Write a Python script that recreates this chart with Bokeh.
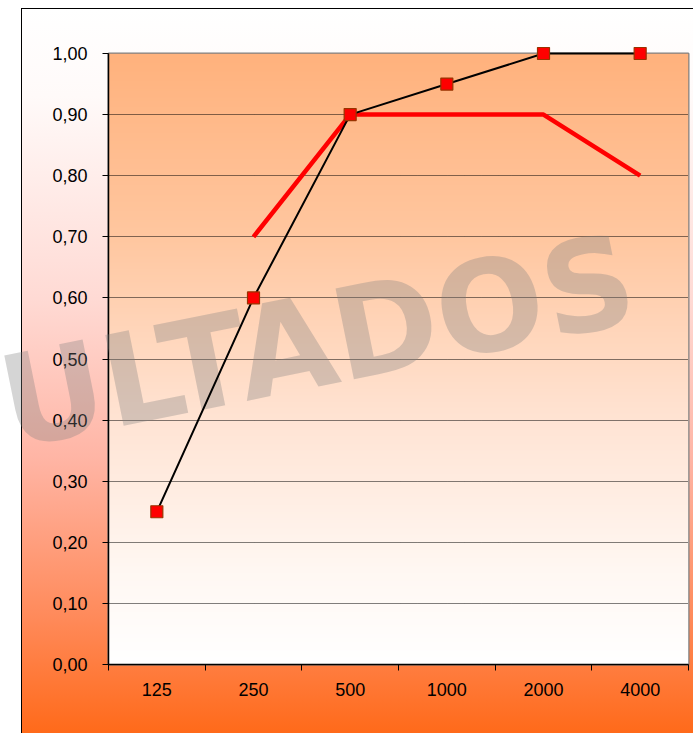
import numpy as np
from bokeh.plotting import figure
from bokeh.models import Range1d, FixedTicker, CustomJSTickFormatter
from bokeh.core.properties import value
from bokeh.embed import file_html
from bokeh.resources import INLINE

# ---- data ----
freqs = ["125", "250", "500", "1000", "2000", "4000"]
serie_negra = [0.25, 0.60, 0.90, 0.95, 1.00, 1.00]
serie_roja = [float("nan"), 0.70, 0.90, 0.90, 0.90, 0.80]
y_ticks = [0.0, 0.1, 0.2, 0.3, 0.4, 0.5, 0.6, 0.7, 0.8, 0.9, 1.0]
watermark = "ULTADOS"

xpos = list(range(len(freqs)))
edges = [i - 0.5 for i in range(len(freqs) + 1)]

outer_bg = ("linear-gradient(#000,#000) 21px 8px / 1px 100% no-repeat, "
            "linear-gradient(#000,#000) 21px 8px / 100% 1px no-repeat, "
            "linear-gradient(to bottom, #ffffff 0%, #fffaf9 12%, #ffdad4 40%, "
            "#ffb5a5 62%, #ff8a5a 84%, #ff6a1a 100%) 22px 9px / calc(100% - 22px) calc(100% - 9px) no-repeat")

p = figure(width=693, height=733, output_backend="svg", toolbar_location=None,
           min_border_left=108, min_border_right=5, min_border_top=53, min_border_bottom=69,
           x_range=Range1d(-0.5, len(freqs) - 0.5), y_range=Range1d(0, 1))
p.border_fill_color = None
p.background_fill_color = None
p.styles = {"background": outer_bg}
p.outline_line_color = "#808080"
p.outline_line_width = 2

# inner gradient of the plot area
stops_f = [0.0, 0.3, 0.6, 0.85, 1.0]
stops_c = np.array([[255, 178, 125], [255, 199, 160], [255, 228, 212], [255, 248, 243], [255, 255, 255]], float)
n = 400
fr = np.linspace(1.0, 0.0, n)
cols = np.stack([np.interp(fr, stops_f, stops_c[:, k]) for k in range(3)], axis=1).astype(np.uint8)
img = np.empty((n, 2), dtype=np.uint32)
view = img.view(dtype=np.uint8).reshape((n, 2, 4))
for j in range(2):
    view[:, j, 0] = cols[:, 0]
    view[:, j, 1] = cols[:, 1]
    view[:, j, 2] = cols[:, 2]
    view[:, j, 3] = 255
p.image_rgba(image=[img], x=-0.5, y=0, dw=len(freqs), dh=1, level="image")

# watermark (not clipped to the plot frame)
p.text(x=[-1.597], y=[0.424], text=[watermark], angle=0.2,
       text_font=value("DejaVu Sans"), text_font_style="bold", text_font_size=value("127px"),
       text_color="#7f7f7f", text_alpha=0.33, text_baseline="alphabetic", text_align="left",
       level="annotation")

# axes
p.xaxis.ticker = FixedTicker(ticks=xpos, minor_ticks=edges)
p.xaxis.formatter = CustomJSTickFormatter(args=dict(labels=freqs),
                                          code="return labels[Math.round(tick)];")
p.xaxis.major_tick_out = 0
p.xaxis.major_tick_in = 0
p.xaxis.minor_tick_out = 6
p.xaxis.minor_tick_in = 0
p.xaxis.minor_tick_line_color = "black"
p.xaxis.major_label_standoff = 12

p.yaxis.ticker = FixedTicker(ticks=y_ticks)
p.yaxis.formatter = CustomJSTickFormatter(code="return tick.toFixed(2).replace('.', ',');")
p.yaxis.major_tick_out = 6
p.yaxis.major_tick_in = 0
p.yaxis.minor_tick_line_color = None
p.yaxis.major_label_standoff = 15

for ax in (p.xaxis, p.yaxis):
    ax.axis_line_color = "black"
    ax.axis_line_width = 1.5
    ax.major_tick_line_color = "black"
    ax.major_label_text_font = "Liberation Sans"
    ax.major_label_text_font_size = "18px"
    ax.major_label_text_color = "black"

p.xgrid.visible = False
p.ygrid.ticker = FixedTicker(ticks=y_ticks)
p.ygrid.grid_line_color = "black"
p.ygrid.grid_line_dash = "1 1"
p.ygrid.grid_line_width = 1

# series
p.line(xpos, serie_roja, line_color="#ff0000", line_width=4.5, line_join="round", level="overlay")
p.line(xpos, serie_negra, line_color="black", line_width=2, level="overlay")
p.scatter(xpos, serie_negra, marker="square", size=12, fill_color="#ff0000",
          line_color="#993300", line_width=1.2, level="overlay")

open("out.html", "w").write(file_html(p, INLINE))
